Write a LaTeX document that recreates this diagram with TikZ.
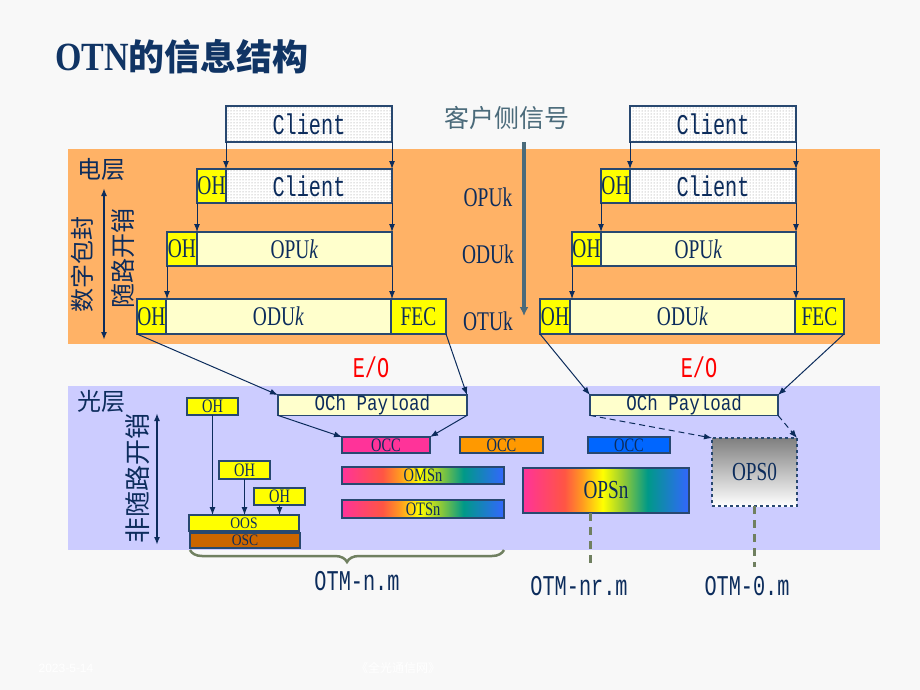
\documentclass[tikz,border=0pt]{standalone}
\usepackage{fontspec}
\usepackage{graphicx}
\setmainfont{Liberation Serif}
\setmonofont{Liberation Mono}
\setsansfont{Liberation Sans}
\newfontfamily\cjk{Noto Sans CJK SC}
\usetikzlibrary{arrows.meta,patterns,decorations.pathreplacing,positioning}

\definecolor{bgpage}{RGB}{248,248,248}
\definecolor{elec}{RGB}{255,178,102}
\definecolor{optic}{RGB}{204,204,255}
\definecolor{ink}{RGB}{12,44,92}
\definecolor{edge}{RGB}{40,72,112}
\definecolor{ohyel}{RGB}{255,255,0}
\definecolor{paleyel}{RGB}{255,255,204}
\definecolor{occpink}{RGB}{255,51,153}
\definecolor{occorg}{RGB}{255,153,0}
\definecolor{occblue}{RGB}{0,102,255}
\definecolor{oscbrown}{RGB}{204,102,0}
\definecolor{olive}{RGB}{112,128,96}
\definecolor{sigcol}{RGB}{74,106,122}
\definecolor{titleblue}{RGB}{16,52,100}
\definecolor{eored}{RGB}{255,0,0}
\definecolor{rbA}{RGB}{255,51,153}
\definecolor{rbB}{RGB}{255,85,68}
\definecolor{rbC}{RGB}{255,150,34}
\definecolor{rbD}{RGB}{255,255,0}
\definecolor{rbE}{RGB}{150,204,51}
\definecolor{rbF}{RGB}{0,153,136}
\definecolor{rbG}{RGB}{51,102,255}

\pgfdeclarehorizontalshading{rainbow}{100bp}{color(0bp)=(rbA); color(25bp)=(rbA);
  color(37.5bp)=(rbB); color(42.5bp)=(rbC); color(49bp)=(rbD); color(55bp)=(rbE);
  color(62.5bp)=(rbF); color(75bp)=(rbG); color(100bp)=(rbG)}

% text sizes
\newcommand{\rowtxt}[1]{{\fontsize{27}{29}\selectfont\scalebox{0.72}[1]{#1}}}
\newcommand{\smalltxt}[1]{{\fontsize{19}{21}\selectfont\scalebox{0.76}[1]{#1}}}
\newcommand{\tinytxt}[1]{{\fontsize{16}{17}\selectfont\scalebox{0.85}[1]{#1}}}
\newcommand{\midtxt}[1]{{\fontsize{26}{28}\selectfont\scalebox{0.74}[1]{#1}}}
\newcommand{\monotxt}[1]{{\ttfamily\fontsize{22}{24}\selectfont\scalebox{0.92}[1.3]{#1}}}
\newcommand{\paytxt}[1]{{\ttfamily\fontsize{17.5}{20}\selectfont\scalebox{1}[1.25]{#1}}}

\tikzstyle{box}=[draw=edge,line width=1.2pt,inner sep=0pt,outer sep=0pt,
    text=ink,anchor=north west]
\tikzstyle{ohbox}=[box,fill=ohyel]
\tikzstyle{paybox}=[box,fill=paleyel]
\tikzstyle{dotbox}=[box,preaction={fill=white},pattern=dots,pattern color=black!45]
\tikzstyle{rainbox}=[box,shading=rainbow]
\tikzstyle{link}=[draw=ink,line width=1pt,-{Latex[length=8pt,width=6pt]}]
\tikzstyle{dbl}=[draw=ink,line width=2pt,
    {Latex[length=8pt,width=6pt]}-{Latex[length=8pt,width=6pt]}]
\tikzstyle{lbl}=[text=ink,inner sep=0pt]
\tikzstyle{hanzi}=[text=ink,inner sep=0pt,font=\cjk\fontsize{24}{26}\selectfont]
\tikzstyle{olivedash}=[draw=olive,line width=3pt,dash pattern=on 8pt off 6pt]

\newcommand{\blk}[7][]{
    \node[box,#1,minimum width=#5pt,minimum height=#6pt] (#2) at (#3,#4) {#7};
}

\begin{document}
\begin{tikzpicture}[x=1pt,y=-1pt]
    \fill[bgpage] (0,0) rectangle (920,690);
    \useasboundingbox (0,0) rectangle (920,690);
    \fill[elec] (68,149) rectangle (880,344);
    \fill[optic] (68,386) rectangle (880,550);
    %
    \node[anchor=west,inner sep=0pt,text=titleblue] (ttl) at (55,57)
        {{\bfseries\fontsize{40}{44}\selectfont\scalebox{0.85}[1]{OTN}}{\cjk\bfseries\fontsize{36}{40}\selectfont 的信息结构}};
    %
    \node[hanzi] (elecLbl) at (101,170) {电层};
    \node[hanzi,rotate=90] (digLbl) at (82,264) {数字包封};
    \node[hanzi,rotate=90,font=\cjk\fontsize{25}{27}\selectfont] (assocLbl) at (123,258) {随路开销};
    \coordinate (eTop) at (104,188);
    \coordinate (eBot) at (104,340);
    \draw[dbl] (eTop) -- (eBot);
    %
    \node[hanzi] (optLbl) at (101,401) {光层};
    \node[hanzi,rotate=90,font=\cjk\fontsize{26}{28}\selectfont] (nonLbl) at (138,478) {非随路开销};
    \coordinate (oTop) at (157,413);
    \coordinate (oBot) at (157,545);
    \draw[dbl] (oTop) -- (oBot);
    %
    \node[text=sigcol,inner sep=0pt,font=\cjk\fontsize{25}{27}\selectfont] (sigLbl) at (507,118) {客户侧信号};
    \coordinate (sigTop) at (524,142);
    \coordinate (sigBot) at (524,316);
    \draw[draw=sigcol,line width=3.2pt,-{Latex[length=9pt,width=9pt]}] (sigTop) -- (sigBot);
    \node[lbl] (opuLbl) at (488,197) {\rowtxt{OPUk}};
    \node[lbl] (oduLbl) at (488,254) {\rowtxt{ODUk}};
    \node[lbl] (otuLbl) at (488,321) {\rowtxt{OTUk}};
    %
    % left stack
    \blk[dotbox]{clA}{226}{106}{166}{36}{\monotxt{Client}}
    \blk[ohbox]{ohA1}{197}{169}{29}{34}{\rowtxt{OH}}
    \blk[dotbox]{clA1}{226}{169}{166}{34}{\monotxt{Client}}
    \blk[ohbox]{ohA2}{167}{232}{30}{34}{\rowtxt{OH}}
    \blk[paybox]{puA}{197}{232}{195}{34}{\rowtxt{OPU\textit{k}}}
    \blk[ohbox]{ohA3}{137}{299}{29}{35}{\rowtxt{OH}}
    \blk[paybox]{duA}{166}{299}{225}{35}{\rowtxt{ODU\textit{k}}}
    \blk[ohbox]{fecA}{391}{299}{55}{35}{\rowtxt{FEC}}
    %
    \draw[link] (clA.south west) -- (clA.south west |- clA1.north);
    \draw[link] (clA.south east) -- (clA.south east |- clA1.north);
    \draw[link] (ohA1.south west) -- (ohA1.south west |- puA.north);
    \draw[link] (clA1.south east) -- (clA1.south east |- puA.north);
    \draw[link] (ohA2.south west) -- (ohA2.south west |- duA.north);
    \draw[link] (puA.south east) -- (puA.south east |- duA.north);
    %
    % right stack
    \blk[dotbox]{clB}{630}{106}{166}{36}{\monotxt{Client}}
    \blk[ohbox]{ohB1}{601}{169}{29}{34}{\rowtxt{OH}}
    \blk[dotbox]{clB1}{630}{169}{166}{34}{\monotxt{Client}}
    \blk[ohbox]{ohB2}{572}{232}{29}{34}{\rowtxt{OH}}
    \blk[paybox]{puB}{601}{232}{195}{34}{\rowtxt{OPU\textit{k}}}
    \blk[ohbox]{ohB3}{540}{299}{30}{35}{\rowtxt{OH}}
    \blk[paybox]{duB}{570}{299}{225}{35}{\rowtxt{ODU\textit{k}}}
    \blk[ohbox]{fecB}{795}{299}{49}{35}{\rowtxt{FEC}}
    %
    \draw[link] (clB.south west) -- (clB.south west |- clB1.north);
    \draw[link] (clB.south east) -- (clB.south east |- clB1.north);
    \draw[link] (ohB1.south west) -- (ohB1.south west |- puB.north);
    \draw[link] (clB1.south east) -- (clB1.south east |- puB.north);
    \draw[link] (ohB2.south west) -- (ohB2.south west |- duB.north);
    \draw[link] (puB.south east) -- (puB.south east |- duB.north);
    %
    % optical layer
    \node[lbl,text=eored] (eoA) at (371,367) {\monotxt{E/O}};
    \node[lbl,text=eored] (eoB) at (699,367) {\monotxt{E/O}};
    \blk[paybox]{payA}{278}{395}{189}{20}{\paytxt{OCh Payload}}
    \blk[paybox]{payB}{590}{395}{188}{20}{\paytxt{OCh Payload}}
    \blk[ohbox]{oha}{187}{398}{51}{17}{\smalltxt{OH}}
    \blk[ohbox]{ohb}{219}{461}{51}{18}{\smalltxt{OH}}
    \blk[ohbox]{ohc}{254}{488}{51}{17}{\smalltxt{OH}}
    \blk[ohbox]{oos}{189}{515}{110}{16}{\tinytxt{OOS}}
    \blk[box,fill=oscbrown]{osc}{190}{533}{110}{15}{\tinytxt{OSC}}
    \blk[box,fill=occpink]{occA}{342}{437}{88}{16}{\smalltxt{OCC}}
    \blk[box,fill=occorg]{occB}{460}{437}{83}{16}{\smalltxt{OCC}}
    \blk[box,fill=occblue]{occC}{588}{437}{82}{16}{\smalltxt{OCC}}
    \blk[rainbox]{omsn}{342}{467}{162}{17}{\smalltxt{OMSn}}
    \blk[rainbox]{otsn}{342}{500}{162}{18}{\smalltxt{OTSn}}
    \blk[rainbox]{opsn}{523}{468}{166}{45}{\midtxt{OPSn}}
    \blk[box,dashed,top color=black!50,bottom color=white]{ops0}{712}{438}{85}{68}{\midtxt{OPS0}}
    %
    \draw[link] (ohA3.south west) -- (payA.north west);
    \draw[link] (fecA.south east) -- (payA.north east);
    \draw[link] (ohB3.south west) -- (payB.north west);
    \draw[link] (fecB.south east) -- (payB.north east);
    \draw[link] (payA.south west) -- (occA.north west);
    \draw[link] (payA.south east) -- (occA.north east);
    \draw[link,dash pattern=on 6pt off 4pt] (payB.south west) -- (ops0.north west);
    \draw[link,dash pattern=on 6pt off 4pt] (payB.south east) -- (ops0.north east);
    \draw[link] (oha.south) -- (oha.south |- oos.north);
    \draw[link] (ohb.south) -- (ohb.south |- oos.north);
    \draw[link] (ohc.south) -- (ohc.south |- oos.north);
    %
    % OTM labels
    \draw[draw=olive,line width=2.5pt,decorate,decoration={brace,mirror,amplitude=12pt}]
        ([yshift=-2pt]osc.south west) -- ([yshift=-2pt]osc.south west -| otsn.east);
    \node[lbl] (otmA) at (357,581) {\monotxt{OTM-n.m}};
    \node[lbl] (otmB) at (579,586) {\monotxt{OTM-nr.m}};
    \node[lbl] (otmC) at (747,586) {\monotxt{OTM-0.m}};
    \coordinate (nrEnd) at (590,567);
    \coordinate (zeroEnd) at (755,567);
    \draw[olivedash] (opsn.south -| nrEnd) -- (nrEnd);
    \draw[olivedash] (ops0.south) -- (ops0.south |- zeroEnd);
    %
    \node[text=white,inner sep=0pt,font=\sffamily\fontsize{12}{14}\selectfont] (dateLbl) at (66,668) {2023-5-14};
    \node[text=white,inner sep=0pt,font=\cjk\fontsize{12}{14}\selectfont] (srcLbl) at (398,668) {《全光通信网》};
\end{tikzpicture}
\end{document}
